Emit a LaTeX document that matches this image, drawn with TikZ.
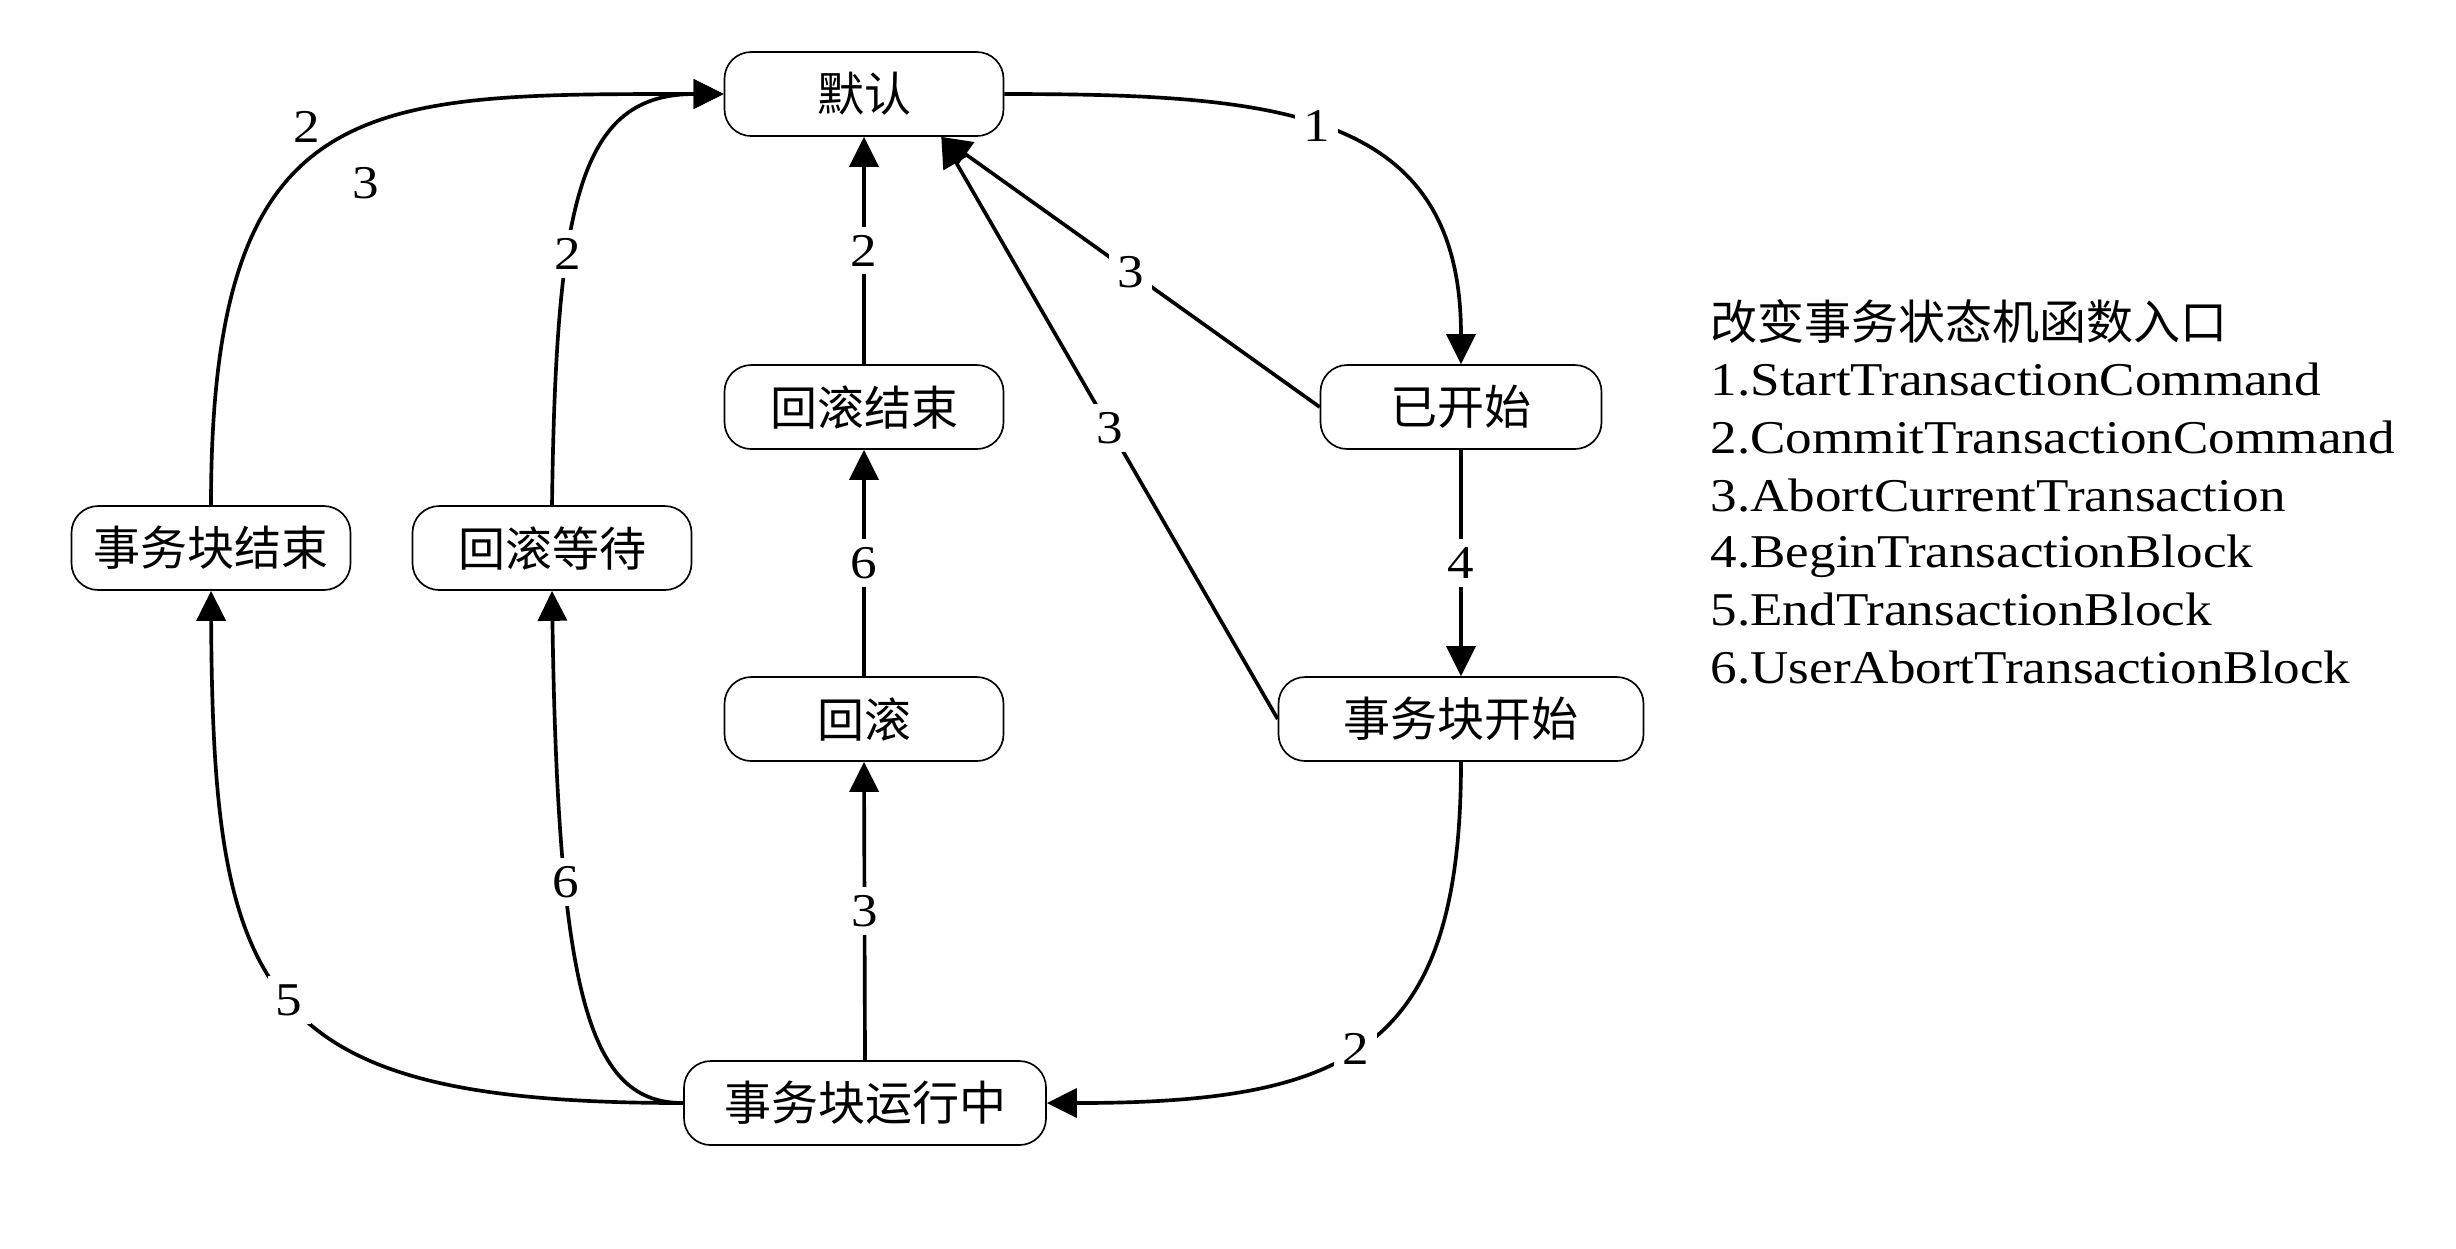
\documentclass[tikz,border=0pt]{standalone}
\usepackage{fontspec}
\setmainfont{Liberation Serif}[FakeStretch=1.13]
\newfontfamily\cjk{Noto Sans CJK SC}
\usetikzlibrary{arrows.meta}
\begin{document}
\begin{tikzpicture}[x=0.3pt,y=-0.3pt,
  state/.style={draw,line width=0.5pt,rounded corners=8pt,minimum height=25.2pt,inner sep=0pt,
    font=\cjk\fontsize{14.1}{16}\selectfont},
  lab/.style={fill=white,inner sep=2.5pt,font=\fontsize{14.1}{16}\selectfont},
  plainlab/.style={inner sep=0pt,font=\fontsize{14.1}{16}\selectfont},
  legtext/.style={anchor=base west,inner sep=0pt,font=\fontsize{14.1}{16}\selectfont},
  legtitle/.style={anchor=base west,inner sep=0pt,font=\cjk\fontsize{14.1}{16}\selectfont},
  conn/.style={line width=1.1pt,-{Triangle[length=9pt,width=8.7pt]}},
]
\useasboundingbox (0,0) rectangle (2456,1248);

% states
\node[state,minimum width=83.7pt]  (moren) at (864,94)   {默认};
\node[state,minimum width=83.7pt]  (hgjs)  at (864,407)  {回滚结束};
\node[state,minimum width=83.7pt]  (hg)    at (864,719)  {回滚};
\node[state,minimum width=108.6pt] (yxz)   at (865,1103) {事务块运行中};
\node[state,minimum width=83.7pt]  (swjs)  at (211,548)  {事务块结束};
\node[state,minimum width=83.7pt]  (hgdd)  at (552,548)  {回滚等待};
\node[state,minimum width=84.3pt]  (yks)   at (1461,407) {已开始};
\node[state,minimum width=109.5pt] (swks)  at (1461,719) {事务块开始};

% connectors
\draw[conn] (moren.east) .. controls (1280,94) and (1461,110) .. node[lab,pos=0.46] {1} (yks.north);
\draw[conn] (yks.south) -- node[lab] {4} (swks.north);
\draw[conn] (yks.west) -- node[lab] {3} (moren.-29.6);
\draw[conn] (swks.west) -- node[lab] {3} (moren.-29.6);
\draw[conn] (hgjs.north) -- node[lab] {2} (moren.south);
\draw[conn] (hg.north) -- node[lab] {6} (hgjs.south);
\draw[conn] (yxz.north) -- node[lab] {3} (hg.south);
\draw[conn] (swks.south) .. controls (1461,1050) and (1350,1103) .. node[lab,pos=0.53] {2} (yxz.east);
\draw[conn] (yxz.west) .. controls (260,1103) and (213,1000) .. node[lab,pos=0.5] {5} (swjs.south);
\draw[conn] (yxz.west) .. controls (590,1103) and (558,1000) .. node[lab,pos=0.7] {6} (hgdd.south);
\draw[conn] (swjs.north) .. controls (211,90) and (365,94) .. (moren.west);
\draw[conn] (hgdd.north) .. controls (556,200) and (580,94) .. node[lab,pos=0.35] {2} (moren.west);
\node[plainlab] (l2) at (307,127) {2};
\node[plainlab] (l3) at (366,183) {3};

% legend
\node[legtitle] (leg0) at (1710,339) {改变事务状态机函数入口};
\node[legtext] (leg1) at (1710,395) {1.StartTransactionCommand};
\node[legtext] (leg2) at (1710,453) {2.CommitTransactionCommand};
\node[legtext] (leg3) at (1710,511) {3.AbortCurrentTransaction};
\node[legtext] (leg4) at (1710,567) {4.BeginTransactionBlock};
\node[legtext] (leg5) at (1710,625) {5.EndTransactionBlock};
\node[legtext] (leg6) at (1710,683) {6.UserAbortTransactionBlock};
\end{tikzpicture}
\end{document}
